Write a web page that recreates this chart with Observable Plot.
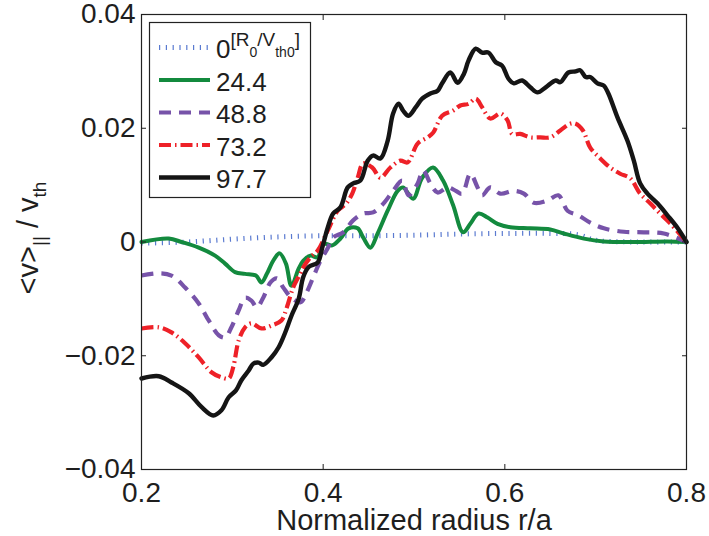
<!DOCTYPE html>
<html>
<head>
<meta charset="utf-8">
<script src="https://cdn.jsdelivr.net/npm/d3@7"></script>
<script src="https://cdn.jsdelivr.net/npm/@observablehq/plot@0.6"></script>
<style>
  html, body { margin: 0; padding: 0; background: #fff; }
  #chart svg { display: block; }
</style>
</head>
<body>
<div id="chart"></div>
<script>
// Parallel flow <v>_|| / v_th versus normalized radius at five times (units R0/Vth0)
const times = ["0", "24.4", "48.8", "73.2", "97.7"];

const rT0 = [0.200, 0.250, 0.300, 0.350, 0.400, 0.450, 0.500, 0.550, 0.600, 0.650, 0.680, 0.700, 0.750, 0.800];
const vT0 = [-0.0002, 0.0000, 0.0005, 0.0009, 0.0011, 0.0011, 0.0012, 0.0014, 0.0015, 0.0015, 0.0013, 0.0003, 0.0000, 0.0000];

const rT24 = [0.200, 0.230, 0.244, 0.263, 0.281, 0.292, 0.303, 0.314, 0.326, 0.332, 0.338, 0.345, 0.352, 0.359, 0.365, 0.373, 0.378, 0.386, 0.394, 0.400, 0.410, 0.419, 0.428, 0.438, 0.444, 0.452, 0.460, 0.471, 0.482, 0.488, 0.499, 0.509, 0.521, 0.532, 0.543, 0.554, 0.562, 0.571, 0.581, 0.592, 0.606, 0.628, 0.650, 0.665, 0.687, 0.709, 0.742, 0.779, 0.800];
const vT24 = [0.0000, 0.0006, 0.0000, -0.0010, -0.0024, -0.0038, -0.0053, -0.0056, -0.0059, -0.0071, -0.0056, -0.0033, -0.0020, -0.0038, -0.0077, -0.0047, -0.0033, -0.0024, -0.0027, -0.0003, -0.0006, 0.0006, 0.0024, 0.0024, 0.0008, -0.0010, 0.0015, 0.0055, 0.0090, 0.0096, 0.0076, 0.0113, 0.0131, 0.0108, 0.0065, 0.0017, 0.0032, 0.0050, 0.0043, 0.0032, 0.0026, 0.0024, 0.0022, 0.0015, 0.0006, 0.0001, 0.0000, 0.0001, 0.0000];

const rT48 = [0.200, 0.219, 0.233, 0.248, 0.263, 0.274, 0.285, 0.292, 0.299, 0.307, 0.314, 0.321, 0.327, 0.334, 0.342, 0.349, 0.356, 0.365, 0.375, 0.382, 0.389, 0.397, 0.405, 0.411, 0.422, 0.433, 0.444, 0.455, 0.466, 0.477, 0.487, 0.494, 0.504, 0.510, 0.518, 0.526, 0.537, 0.546, 0.553, 0.562, 0.570, 0.575, 0.584, 0.595, 0.610, 0.621, 0.632, 0.647, 0.659, 0.669, 0.681, 0.694, 0.709, 0.731, 0.753, 0.775, 0.800];
const vT48 = [-0.0059, -0.0055, -0.0059, -0.0080, -0.0108, -0.0138, -0.0164, -0.0168, -0.0150, -0.0120, -0.0098, -0.0103, -0.0115, -0.0098, -0.0071, -0.0064, -0.0080, -0.0098, -0.0106, -0.0088, -0.0062, -0.0033, -0.0011, 0.0008, 0.0017, 0.0038, 0.0050, 0.0052, 0.0067, 0.0090, 0.0108, 0.0082, 0.0103, 0.0126, 0.0103, 0.0087, 0.0096, 0.0090, 0.0085, 0.0120, 0.0096, 0.0082, 0.0096, 0.0085, 0.0090, 0.0085, 0.0069, 0.0073, 0.0082, 0.0055, 0.0047, 0.0034, 0.0024, 0.0018, 0.0017, 0.0015, 0.0000];

const rT73 = [0.200, 0.219, 0.233, 0.248, 0.263, 0.277, 0.288, 0.296, 0.301, 0.307, 0.314, 0.321, 0.332, 0.343, 0.354, 0.360, 0.367, 0.375, 0.378, 0.386, 0.394, 0.405, 0.416, 0.425, 0.432, 0.438, 0.444, 0.454, 0.463, 0.474, 0.485, 0.493, 0.504, 0.515, 0.521, 0.531, 0.543, 0.551, 0.560, 0.568, 0.575, 0.584, 0.595, 0.603, 0.608, 0.617, 0.628, 0.639, 0.650, 0.661, 0.672, 0.678, 0.686, 0.694, 0.705, 0.716, 0.727, 0.738, 0.749, 0.760, 0.771, 0.782, 0.800];
const vT73 = [-0.0152, -0.0150, -0.0159, -0.0178, -0.0203, -0.0229, -0.0238, -0.0240, -0.0220, -0.0173, -0.0150, -0.0143, -0.0152, -0.0147, -0.0138, -0.0115, -0.0080, -0.0055, -0.0045, -0.0027, -0.0015, 0.0020, 0.0055, 0.0067, 0.0085, 0.0113, 0.0138, 0.0131, 0.0113, 0.0131, 0.0143, 0.0140, 0.0173, 0.0184, 0.0192, 0.0222, 0.0231, 0.0240, 0.0243, 0.0252, 0.0237, 0.0217, 0.0226, 0.0214, 0.0190, 0.0190, 0.0184, 0.0184, 0.0184, 0.0196, 0.0208, 0.0208, 0.0196, 0.0166, 0.0147, 0.0131, 0.0120, 0.0112, 0.0085, 0.0068, 0.0050, 0.0033, 0.0000];

const rT97 = [0.200, 0.219, 0.233, 0.252, 0.266, 0.279, 0.288, 0.296, 0.304, 0.310, 0.318, 0.323, 0.329, 0.334, 0.343, 0.351, 0.359, 0.365, 0.373, 0.378, 0.384, 0.394, 0.399, 0.405, 0.411, 0.419, 0.427, 0.433, 0.441, 0.449, 0.455, 0.463, 0.471, 0.477, 0.483, 0.488, 0.494, 0.502, 0.509, 0.518, 0.526, 0.531, 0.540, 0.548, 0.555, 0.560, 0.568, 0.575, 0.582, 0.590, 0.597, 0.604, 0.610, 0.619, 0.628, 0.636, 0.645, 0.656, 0.661, 0.670, 0.678, 0.683, 0.689, 0.694, 0.702, 0.709, 0.714, 0.724, 0.735, 0.742, 0.749, 0.757, 0.768, 0.779, 0.790, 0.800];
const vT97 = [-0.0240, -0.0236, -0.0247, -0.0266, -0.0290, -0.0305, -0.0296, -0.0273, -0.0261, -0.0243, -0.0226, -0.0214, -0.0212, -0.0216, -0.0203, -0.0185, -0.0156, -0.0130, -0.0100, -0.0062, -0.0044, -0.0036, -0.0010, 0.0025, 0.0050, 0.0061, 0.0096, 0.0103, 0.0108, 0.0143, 0.0152, 0.0147, 0.0178, 0.0226, 0.0243, 0.0231, 0.0222, 0.0237, 0.0252, 0.0261, 0.0266, 0.0279, 0.0298, 0.0280, 0.0296, 0.0319, 0.0340, 0.0333, 0.0333, 0.0316, 0.0310, 0.0287, 0.0279, 0.0284, 0.0272, 0.0263, 0.0272, 0.0284, 0.0281, 0.0298, 0.0300, 0.0302, 0.0290, 0.0290, 0.0279, 0.0275, 0.0261, 0.0219, 0.0178, 0.0143, 0.0103, 0.0085, 0.0068, 0.0047, 0.0025, 0.0000];

const xTicks = [0.2, 0.4, 0.6, 0.8];
const yTicks = [-0.04, -0.02, 0, 0.02, 0.04];

// line styles, one per time slice
const styles = [
  {stroke: "#3d63c8", strokeWidth: 5, strokeDasharray: "1.2,5.6", strokeLinecap: "butt", strokeOpacity: 0.85},
  {stroke: "#138a3e", strokeWidth: 4, strokeDasharray: null, strokeLinecap: "round"},
  {stroke: "#7753a9", strokeWidth: 4.2, strokeDasharray: "12,8", strokeLinecap: "butt"},
  {stroke: "#ee2128", strokeWidth: 4.2, strokeDasharray: "12,4,1.5,4", strokeLinecap: "butt"},
  {stroke: "#151515", strokeWidth: 4.4, strokeDasharray: null, strokeLinecap: "round"}
];

const radii = [rT0, rT24, rT48, rT73, rT97];
const flows = [vT0, vT24, vT48, vT73, vT97];
const series = times.map((t, k) => radii[k].map((r, i) => ({time: t, r, v: flows[k][i]})));

const fmtY = d => d === 0 ? "0" : d3.format(".2f")(d);
const fmtX = d3.format(".1f");
const FONT = "'Liberation Sans', Arial, Helvetica, sans-serif";

const chart = Plot.plot({
  width: 709,
  height: 536,
  marginLeft: 141,
  marginRight: 23,
  marginTop: 14,
  marginBottom: 67,
  style: {fontFamily: FONT, fontSize: "28px", color: "#1e1e1e", background: "#fff"},
  x: {domain: [0.2, 0.8]},
  y: {domain: [-0.04, 0.04]},
  marks: [
    ...series.map((rows, k) => Plot.line(rows, {
      x: "r", y: "v", curve: "catmull-rom",
      strokeLinejoin: "round",
      ...styles[k]
    })),
    Plot.frame({stroke: "#222", strokeWidth: 1.2}),
    Plot.axisX(xTicks, {anchor: "bottom", tickSize: 0, tickPadding: 13, tickFormat: fmtX, label: null}),
    Plot.axisY(yTicks, {anchor: "left", tickSize: 0, tickPadding: 6, tickFormat: fmtY, label: null}),
    Plot.axisX(xTicks, {anchor: "bottom", tickSize: -5, fill: "none", label: null}),
    Plot.axisX(xTicks, {anchor: "top", tickSize: -5, fill: "none", label: null}),
    Plot.axisY(yTicks, {anchor: "left", tickSize: -5, fill: "none", label: null}),
    Plot.axisY(yTicks, {anchor: "right", tickSize: -5, fill: "none", label: null})
  ]
});

document.getElementById("chart").appendChild(chart);

const svg = d3.select(chart);

// axis titles
svg.append("text")
  .attr("x", 414).attr("y", 530)
  .attr("text-anchor", "middle")
  .attr("font-family", FONT).attr("font-size", 29).attr("fill", "#1e1e1e")
  .text("Normalized radius r/a");

const yl = svg.append("text")
  .attr("transform", "translate(38,238) rotate(-90)")
  .attr("text-anchor", "middle")
  .attr("font-family", FONT).attr("font-size", 29).attr("fill", "#1e1e1e");
yl.append("tspan").text("<v>");
yl.append("tspan").attr("font-size", 19).attr("dy", 8).text("||");
yl.append("tspan").attr("dy", -8).text(" / v");
yl.append("tspan").attr("font-size", 19).attr("dy", 8).text("th");

// legend
const lg = svg.append("g").attr("font-family", FONT).attr("fill", "#1e1e1e").attr("text-anchor", "start");
lg.append("rect")
  .attr("x", 149.5).attr("y", 22.5).attr("width", 161).attr("height", 175)
  .attr("fill", "#fff").attr("stroke", "#222").attr("stroke-width", 1.2);
times.forEach((t, k) => {
  const base = 58 + k * 32.5;
  const s = styles[k];
  lg.append("line")
    .attr("x1", 159).attr("x2", 210).attr("y1", base - 10.5).attr("y2", base - 10.5)
    .attr("stroke", s.stroke).attr("stroke-width", s.strokeWidth)
    .attr("stroke-dasharray", s.strokeDasharray)
    .attr("stroke-linecap", "butt")
    .attr("stroke-opacity", s.strokeOpacity ?? 1);
  const tx = lg.append("text").attr("x", 216).attr("y", base)
    .attr("font-size", 26).attr("text-anchor", "start");
  if (k === 0) {
    tx.append("tspan").text(t);
    tx.append("tspan").attr("font-size", 19).attr("dy", -12).text("[R");
    tx.append("tspan").attr("font-size", 14).attr("dy", 11).text("0");
    tx.append("tspan").attr("font-size", 19).attr("dy", -11).text("/V");
    tx.append("tspan").attr("font-size", 14).attr("dy", 11).text("th0");
    tx.append("tspan").attr("font-size", 19).attr("dy", -11).text("]");
  } else {
    tx.text(t);
  }
});
</script>
</body>
</html>
